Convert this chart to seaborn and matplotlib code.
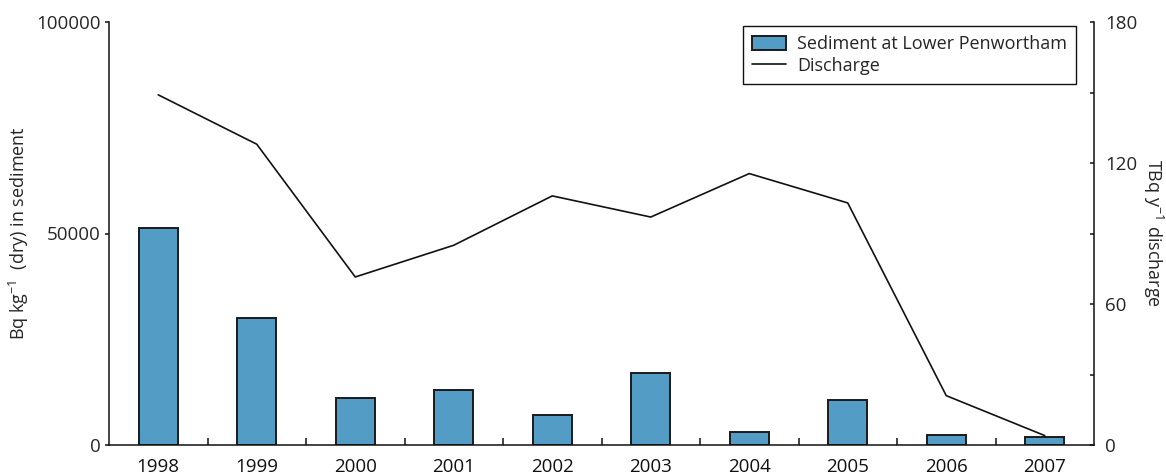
import matplotlib
matplotlib.use("Agg")
import matplotlib.pyplot as plt
from matplotlib.ticker import FixedLocator, NullFormatter
import seaborn as sns
import pandas as pd
import numpy as np

# Annual values
years = ["1998", "1999", "2000", "2001", "2002", "2003", "2004", "2005", "2006", "2007"]
sediment = [51300, 30000, 11000, 13000, 7000, 17000, 3000, 10700, 2400, 2000]   # Bq/kg (dry)
discharge = [149, 128, 71.5, 85, 106, 97, 115.5, 103, 21, 4]                    # TBq/y

left_ticks = [0, 50000, 100000]
right_ticks = [0, 60, 120, 180]
right_minor = [30, 90, 150]

sns.set_theme(style="white")
plt.rcParams["font.family"] = ["Open Sans", "DejaVu Sans"]
fs = 13.5
plt.rcParams["font.size"] = fs

df = pd.DataFrame({"year": years, "sediment": sediment, "discharge": discharge})

fig = plt.figure(figsize=(11.66, 4.75), dpi=100)
ax = fig.add_axes([109 / 1166, 1 - 445 / 475, (1094 - 109) / 1166, (445 - 22) / 475])

bar_color = "#529CC6"
sns.barplot(data=df, x="year", y="sediment", color=bar_color, width=0.4,
            edgecolor="#1a1a1a", linewidth=1.4, saturation=1, ax=ax,
            label="Sediment at Lower Penwortham")

ax.set_xlim(-0.5, len(years) - 0.5)
ax.set_ylim(0, 100000)
ax.set_yticks(left_ticks)
ax.set_yticklabels([str(v) for v in left_ticks])
ax.set_xlabel("")
ax.set_ylabel("Bq kg$^{\\mathregular{-1}}$  (dry) in sediment", fontsize=13, labelpad=4)

# Category separators on the x axis
ax.xaxis.set_minor_locator(FixedLocator(np.arange(0.5, len(years) - 0.5, 1.0)))
ax.xaxis.set_minor_formatter(NullFormatter())
ax.tick_params(axis="x", which="major", length=0, pad=9, labelsize=fs, colors="#111")
ax.tick_params(axis="x", which="minor", direction="in", length=5, width=1.1, color="#111", bottom=True)
ax.tick_params(axis="y", which="major", direction="out", length=3, width=1.1, pad=3,
               labelsize=fs, color="#111", left=True)

for side in ["top", "right"]:
    ax.spines[side].set_visible(False)
for side in ["left", "bottom"]:
    ax.spines[side].set_color("#111")
    ax.spines[side].set_linewidth(1.1)

# Discharge on a secondary axis
ax2 = ax.twinx()
sns.lineplot(x=np.arange(len(years)), y=df["discharge"], color="#111", linewidth=1.2,
             ax=ax2, label="Discharge")
ax2.set_ylim(0, 180)
ax2.set_yticks(right_ticks)
ax2.set_yticklabels([str(v) for v in right_ticks])
ax2.yaxis.set_minor_locator(FixedLocator(right_minor))
ax2.tick_params(axis="y", which="major", direction="in", length=3, width=1.1, pad=8,
                labelsize=fs, color="#111", right=True)
ax2.tick_params(axis="y", which="minor", direction="in", length=3, width=1.1, color="#111", right=True)
ax2.set_ylabel("TBq y$^{\\mathregular{-1}}$ discharge", fontsize=13, rotation=-90, labelpad=20)
for side in ["top", "left", "bottom"]:
    ax2.spines[side].set_visible(False)
ax2.spines["right"].set_color("#111")
ax2.spines["right"].set_linewidth(1.1)

# Combined legend
h1, l1 = ax.get_legend_handles_labels()
h2, l2 = ax2.get_legend_handles_labels()
if ax.get_legend() is not None:
    ax.get_legend().remove()
if ax2.get_legend() is not None:
    ax2.get_legend().remove()
leg = ax2.legend(h1 + h2, l1 + l2, loc="upper right",
                 bbox_to_anchor=(1076 / 1166, 1 - 26 / 475), bbox_transform=fig.transFigure,
                 frameon=True, fancybox=False, fontsize=13, borderaxespad=0,
                 handlelength=1.9, handleheight=0.8, handletextpad=0.6,
                 borderpad=0.5, labelspacing=0.2)
leg.get_frame().set_edgecolor("#111")
leg.get_frame().set_linewidth(1.0)
leg.get_frame().set_alpha(1)

fig.savefig("out.png", dpi=100)
